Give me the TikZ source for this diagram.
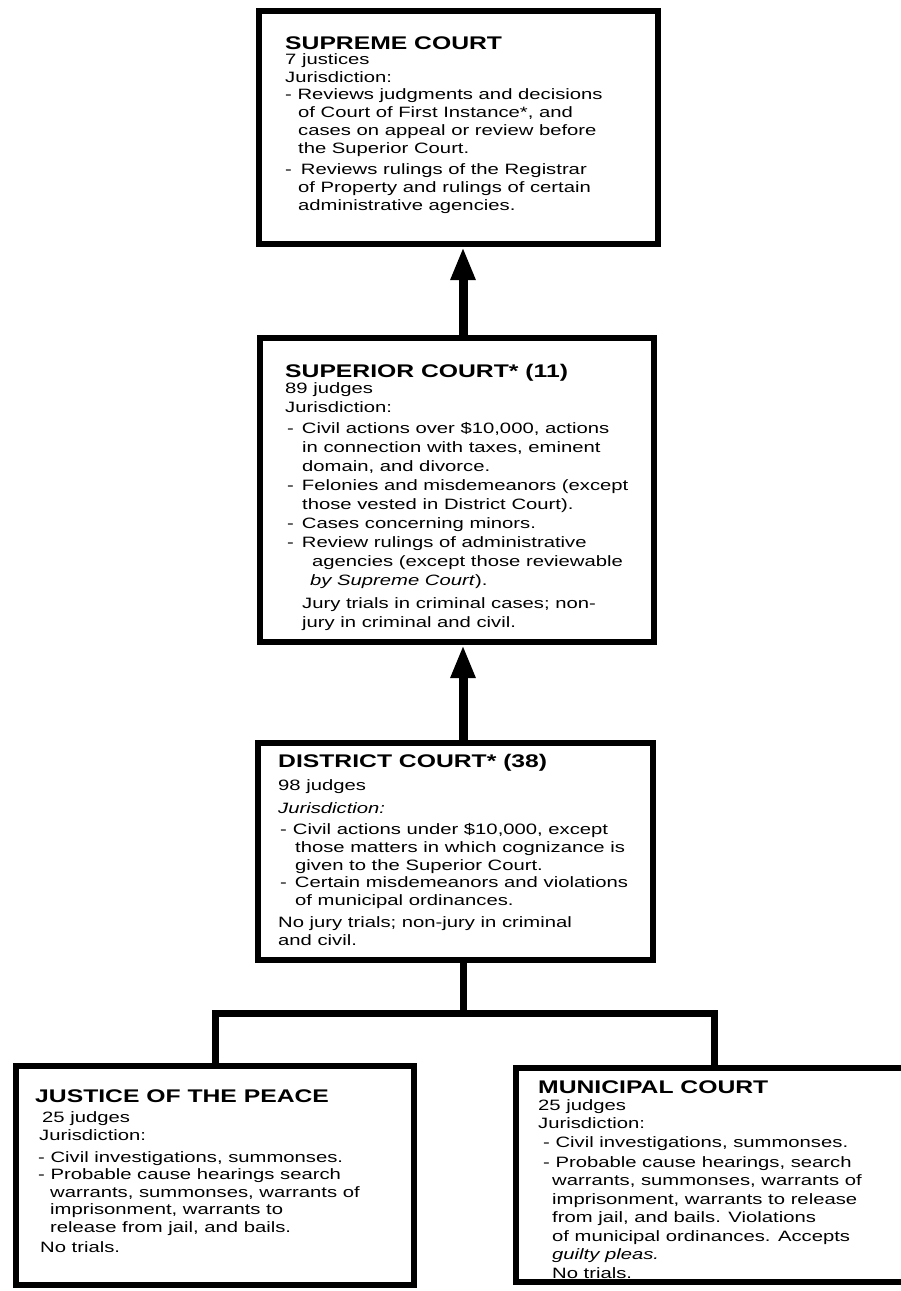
\documentclass[tikz,border=0pt]{standalone}
\usepackage{fontspec}
\setmainfont[FakeStretch=1.35]{Liberation Sans}
\usetikzlibrary{arrows.meta}
\newcommand{\ctitle}[1]{{\fontsize{18.3}{20}\selectfont\bfseries #1}}
\newcommand{\ind}[1]{\hspace*{#1pt}}

\begin{document}
\begin{tikzpicture}[x=1pt, y=-1pt,
    court/.style={draw, line width=6pt, inner sep=0pt},
    info/.style={anchor=base west, align=left, inner sep=0pt},
    link/.style={line width=7pt},
    up/.style={line width=9pt, -{Triangle[length=33pt, width=23pt]}}]
    \useasboundingbox (0,0) rectangle (900,1291);
    % boxes
    \node[court, minimum width=399pt, minimum height=233pt] (supr) at (458.5,127.5) {};
    \node[court, minimum width=394pt, minimum height=304pt] (sup) at (457,490) {};
    \node[court, minimum width=395pt, minimum height=217pt] (dc) at (455.5,851.5) {};
    \node[court, minimum width=398pt, minimum height=219pt] (jp) at (215,1175.5) {};
    \node[court, minimum width=388pt, minimum height=214pt] (mc) at (710,1175) {};
    % texts (placed by the baseline of their last line)
    \node[info, font=\fontsize{15}{18}\selectfont] (suprtxt) at (285,210) {\ctitle{SUPREME COURT}\\[-3pt]
        7 justices\\
        Jurisdiction:\\[-1pt]
        - Reviews judgments and decisions\\
        \ind{13}of Court of First Instance*, and\\
        \ind{13}cases on appeal or review before\\
        \ind{13}the Superior Court.\\[3pt]
        -\ind{9}Reviews rulings of the Registrar\\
        \ind{13}of Property and rulings of certain\\
        \ind{13}administrative agencies.};
    \node[info, font=\fontsize{15}{19}\selectfont] (suptxt) at (285,627) {\ctitle{SUPERIOR COURT* (11)}\\[-3pt]
        89 judges\\
        Jurisdiction:\\[2pt]
        \ind{2}-\ind{8}Civil actions over \$10,000, actions\\
        \ind{17}in connection with taxes, eminent\\
        \ind{17}domain, and divorce.\\
        \ind{2}-\ind{8}Felonies and misdemeanors (except\\
        \ind{17}those vested in District Court).\\
        \ind{2}-\ind{8}Cases concerning minors.\\
        \ind{2}-\ind{8}Review rulings of administrative\\
        \ind{27}agencies (except those reviewable\\
        \ind{25}\textit{by Supreme Court}).\\[4pt]
        \ind{17}Jury trials in criminal cases; non-\\
        \ind{17}jury in criminal and civil.};
    \node[info, font=\fontsize{15}{17.7}\selectfont] (dctxt) at (278,945) {\ctitle{DISTRICT COURT* (38)}\\[5pt]
        98 judges\\[5pt]
        \textit{Jurisdiction:}\\[4pt]
        \ind{2}-\ind{6}Civil actions under \$10,000, except\\
        \ind{17}those matters in which cognizance is\\
        \ind{17}given to the Superior Court.\\
        \ind{2}-\ind{8}Certain misdemeanors and violations\\
        \ind{17}of municipal ordinances.\\[4pt]
        No jury trials; non-jury in criminal\\
        and civil.};
    \node[info, font=\fontsize{15}{17.5}\selectfont] (jptxt) at (35,1252) {\ctitle{JUSTICE OF THE PEACE}\\[2.5pt]
        \ind{7}25 judges\\
        \ind{4}Jurisdiction:\\[4.5pt]
        \ind{3}- Civil investigations, summonses.\\
        \ind{3}- Probable cause hearings search\\
        \ind{15}warrants, summonses, warrants of\\
        \ind{15}imprisonment, warrants to\\
        \ind{15}release from jail, and bails.\\[2.5pt]
        \ind{5}No trials.};
    \node[info, font=\fontsize{15}{18.5}\selectfont] (mctxt) at (538,1278) {\ctitle{MUNICIPAL COURT}\\[-1.5pt]
        25 judges\\
        Jurisdiction:\\
        \ind{5}- Civil investigations, summonses.\\[1.5pt]
        \ind{5}- Probable cause hearings, search\\
        \ind{14}warrants, summonses, warrants of\\
        \ind{14}imprisonment, warrants to release\\
        \ind{14}from jail, and bails. Violations\\
        \ind{14}of municipal ordinances. Accepts\\
        \ind{14}\textit{guilty pleas.}\\
        \ind{14}No trials.};
    % connectors
    \draw[up] ([xshift=6pt]sup.north) -- ([xshift=4.5pt]supr.south);
    \draw[up] ([xshift=7.5pt]dc.north) -- ([xshift=6pt]sup.south);
    \coordinate (fork) at (463,1013);
    \draw[link] ([xshift=7.5pt]dc.south) -- (fork);
    \draw[link] (jp.north) |- (fork) -| ([xshift=4pt]mc.north);
\end{tikzpicture}
\end{document}
